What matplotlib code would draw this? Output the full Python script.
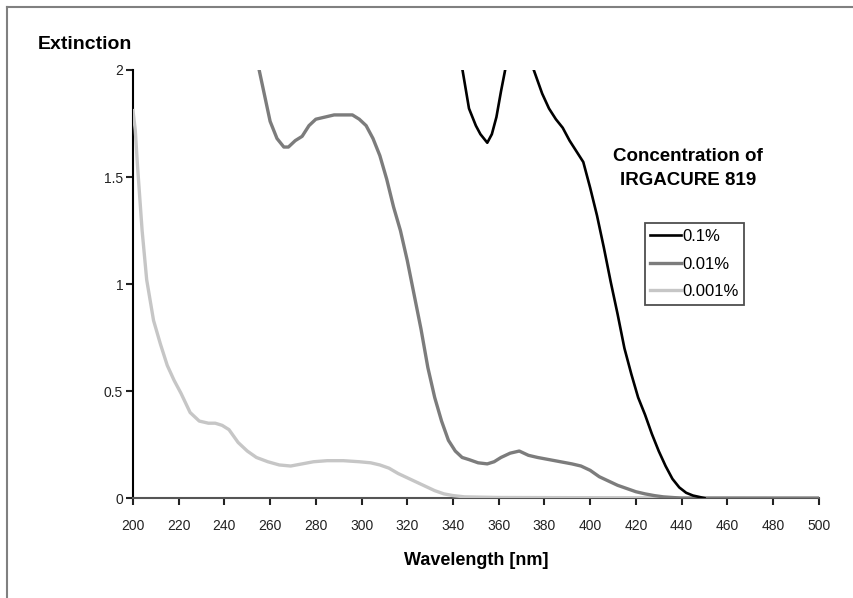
import matplotlib
matplotlib.use("Agg")
import matplotlib.pyplot as plt
from matplotlib.lines import Line2D

plt.rcParams['font.family'] = ['Liberation Sans Narrow', 'Liberation Sans', 'DejaVu Sans']

# 0.1 % IRGACURE 819 (values above 2 are clipped by the axes)
wl_01 = [342, 344, 347, 350, 352, 355, 357, 359, 361, 363, 366, 369, 372, 375,
         379, 382, 385, 388, 391, 394, 397, 400, 403, 406, 409, 412, 415, 418,
         421, 424, 427, 430, 433, 436, 439, 442, 445, 448, 450]
ext_01 = [2.15, 2.01, 1.82, 1.74, 1.70, 1.66, 1.70, 1.78, 1.90, 2.01, 2.3, 2.4, 2.2, 2.01,
          1.89, 1.82, 1.77, 1.73, 1.67, 1.62, 1.57, 1.45, 1.32, 1.17, 1.01, 0.86, 0.70, 0.58,
          0.47, 0.39, 0.30, 0.22, 0.15, 0.09, 0.05, 0.025, 0.012, 0.005, 0.0]

# 0.01 %
wl_001 = [252, 255, 258, 260, 263, 266, 268, 271, 274, 277, 280, 284, 288, 292,
          296, 299, 302, 305, 308, 311, 314, 317, 320, 323, 326, 329, 332, 335,
          338, 341, 344, 347, 351, 355, 358, 361, 365, 369, 373, 377, 382, 387,
          392, 396, 400, 404, 408, 412, 416, 420, 424, 428, 432, 436, 440, 450, 500]
ext_001 = [2.15, 2.01, 1.86, 1.76, 1.68, 1.64, 1.64, 1.67, 1.69, 1.74, 1.77, 1.78, 1.79, 1.79,
           1.79, 1.77, 1.74, 1.68, 1.60, 1.49, 1.36, 1.25, 1.11, 0.95, 0.79, 0.61, 0.47, 0.36,
           0.27, 0.22, 0.19, 0.18, 0.165, 0.16, 0.17, 0.19, 0.21, 0.22, 0.20, 0.19, 0.18, 0.17,
           0.16, 0.15, 0.13, 0.10, 0.08, 0.06, 0.045, 0.03, 0.02, 0.012, 0.006, 0.003, 0.0, 0.0, 0.0]

# 0.001 %
wl_0001 = [200, 201, 202, 204, 206, 209, 212, 215, 218, 221, 225, 229, 233, 236,
           239, 242, 246, 250, 254, 259, 264, 269, 274, 279, 285, 292, 299, 304,
           308, 312, 316, 320, 324, 328, 332, 336, 340, 345, 360, 400, 500]
ext_0001 = [1.81, 1.72, 1.55, 1.25, 1.02, 0.83, 0.72, 0.62, 0.55, 0.49, 0.40, 0.36, 0.35, 0.35,
            0.34, 0.32, 0.26, 0.22, 0.19, 0.17, 0.155, 0.15, 0.16, 0.17, 0.175, 0.175, 0.17, 0.165,
            0.155, 0.14, 0.115, 0.095, 0.075, 0.055, 0.035, 0.02, 0.012, 0.006, 0.003, 0.002, 0.0]

labels = ['0.1%', '0.01%', '0.001%']
colors = ['#000000', '#7c7c7c', '#c6c6c6']
x_ticks = list(range(200, 501, 20))
y_ticks = [0, 0.5, 1, 1.5, 2]
y_ticklabels = ['0', '0.5', '1', '1.5', '2']

fig = plt.figure(figsize=(8.54, 5.98), dpi=100)
ax = fig.add_axes([0.1557, 0.167, 0.803, 0.716])

ax.plot(wl_0001, ext_0001, color=colors[2], lw=2.4, label=labels[2], zorder=3)
ax.plot(wl_001, ext_001, color=colors[1], lw=2.4, label=labels[1], zorder=4)
ax.plot(wl_01, ext_01, color=colors[0], lw=1.9, label=labels[0], zorder=5)

ax.set_xlim(200, 500)
ax.set_ylim(0, 2)
ax.set_xticks(x_ticks)
ax.set_yticks(y_ticks)
ax.set_yticklabels(y_ticklabels)
ax.tick_params(direction='out', length=5, width=1.5, labelsize=10, pad=10, colors='#222222')
ax.tick_params(axis='y', pad=2)

for side in ['top', 'right']:
    ax.spines[side].set_visible(False)
ax.spines['left'].set_linewidth(1.5)
ax.spines['bottom'].set_linewidth(1.5)
ax.spines['bottom'].set_color('#555555')

ax.set_xlabel('Wavelength [nm]', fontsize=13, fontweight='bold', labelpad=14)
fig.text(0.044, 0.925, 'Extinction', fontsize=14, fontweight='bold', va='center')

ax.text(0.81, 0.77, 'Concentration of\nIRGACURE 819', transform=ax.transAxes,
        fontsize=13.5, fontweight='bold', ha='center', va='center', linespacing=1.55)

handles, labs = ax.get_legend_handles_labels()
leg = ax.legend(handles[::-1], labs[::-1], loc='upper left', bbox_to_anchor=(0.746, 0.642),
                borderaxespad=0, fancybox=False, frameon=True, edgecolor='#222222',
                fontsize=12, handlelength=1.85, handletextpad=0.05, labelspacing=0.75,
                borderpad=0.35)
leg.get_frame().set_linewidth(1.3)

# outer frame of the original picture
fig.add_artist(Line2D([0.008, 1.0], [0.988, 0.988], color='#808080', lw=1.5))
fig.add_artist(Line2D([0.008, 0.008], [0.0, 0.988], color='#808080', lw=1.5))

fig.savefig('out.png', dpi=100)
